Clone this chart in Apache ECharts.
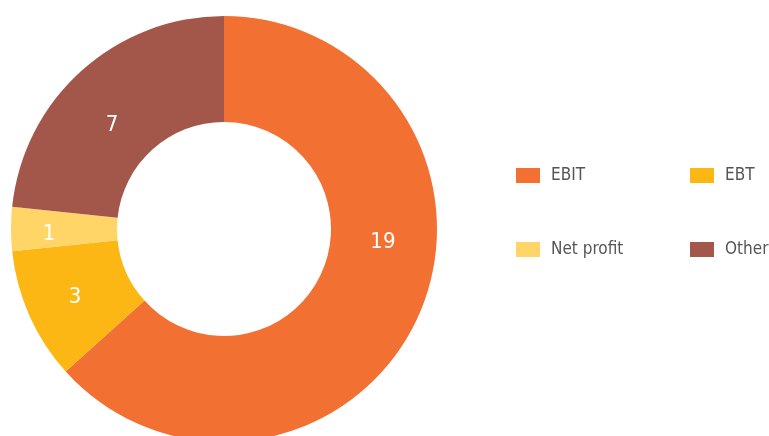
<!DOCTYPE html>
<html><head><meta charset="utf-8">
<script src="https://cdn.jsdelivr.net/npm/echarts@6/dist/echarts.min.js"></script>
<style>html,body{margin:0;padding:0;background:#fff}#c{width:769px;height:436px}</style>
</head><body><div id="c"></div>
<script>
const categories = ["EBIT", "EBT", "Net profit", "Other"];
const values = [19, 3, 1, 7];
const colors = ["#F37033", "#FDB714", "#FFD567", "#A3564A"];
const labelOffsets = [[10, -53], [0, 2], [-12, 5], [-3, 17]];
const font = "'DejaVu Sans Condensed', 'Roboto', sans-serif";

const chart = echarts.init(document.getElementById('c'));
const legendCommon = {
  orient: 'vertical', itemWidth: 24, itemHeight: 15, itemGap: 57,
  icon: 'rect', textStyle: {color: '#555', fontSize: 17, fontFamily: font, padding: [0,0,0,6]}
};
chart.setOption({
  animation: false,
  color: colors,
  legend: [
    Object.assign({left: 511, top: 162, data: [categories[0], categories[2]]}, legendCommon),
    Object.assign({left: 685, top: 162, data: [categories[1], categories[3]]}, legendCommon)
  ],
  series: [{
    type: 'pie',
    center: [224, 229],
    radius: [107, 213],
    startAngle: 90,
    clockwise: true,
    label: {show: true, position: 'inside', formatter: '{c}', color: '#fff', fontSize: 22, fontFamily: font},
    labelLine: {show: false},
    itemStyle: {borderWidth: 0},
    emphasis: {disabled: true},
    data: categories.map((n, i) => ({name: n, value: values[i], label: {offset: labelOffsets[i]}}))
  }]
});
</script></body></html>
